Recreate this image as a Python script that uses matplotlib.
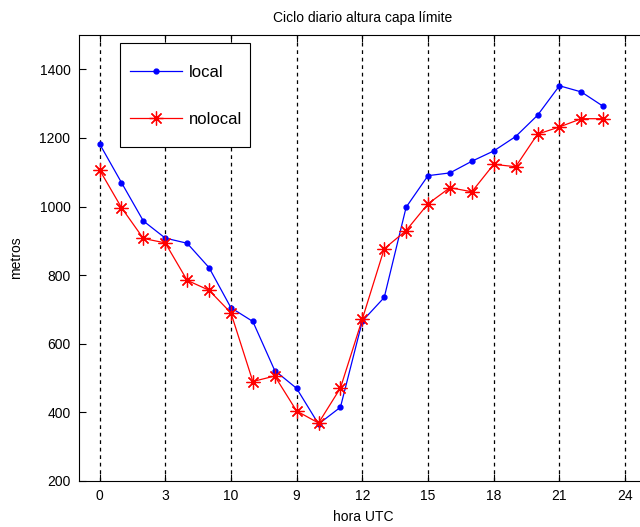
import numpy as np
import matplotlib
matplotlib.use('Agg')
import matplotlib.pyplot as plt
from matplotlib.patches import Rectangle

plt.rcParams['font.family'] = ['Liberation Sans', 'DejaVu Sans']
plt.rcParams['font.size'] = 10

# hourly boundary layer height (m)
hora = np.arange(24)
local = [1183, 1070, 958, 908, 893, 822, 705, 665, 522, 470, 366, 415,
         666, 735, 998, 1090, 1098, 1132, 1162, 1204, 1266, 1352, 1334, 1292]
nolocal = [1107, 997, 907, 894, 785, 756, 690, 490, 506, 404, 369, 471,
           672, 877, 930, 1008, 1055, 1043, 1123, 1116, 1211, 1232, 1256, 1256]

xticks = [0, 3, 6, 9, 12, 15, 18, 21, 24]
xticklabels = ['0', '3', '10', '9', '12', '15', '18', '21', '24']
yticks = [200, 400, 600, 800, 1000, 1200, 1400]

fig = plt.figure(figsize=(6.4, 5.27), dpi=100)
ax = fig.add_axes([0.123, 0.0873, 0.888, 0.8463])

ax.plot(hora, local, 'b.-', lw=0.9, ms=7, label='local')
# 8-arm asterisk like the classic '*' marker
ax.plot(hora, nolocal, 'r-', marker=(8, 2, 0), lw=0.9, ms=10, mew=0.9,
        label='nolocal')

ax.set_xlim(-0.95, 25)
ax.set_ylim(200, 1500)
ax.set_xticks(xticks)
ax.set_xticklabels(xticklabels)
ax.set_yticks(yticks)
ax.tick_params(direction='in', top=True, right=True, length=5, width=0.8,
               labelsize=10, pad=6)
ax.xaxis.grid(True, ls=(0, (3, 3)), color='black', lw=0.9)
for s in ax.spines.values():
    s.set_linewidth(0.8)

ax.set_title('Ciclo diario altura capa límite', fontsize=10, pad=9)
ax.set_xlabel('hora UTC', labelpad=5)
ax.set_ylabel('metros', labelpad=12)

# legend entries without frame, box drawn separately for the tall layout
leg = ax.legend(loc='upper left', bbox_to_anchor=(0.0903, 0.932),
                borderaxespad=0, frameon=False, fontsize=12, borderpad=0,
                handlelength=3.1, labelspacing=1.92, handletextpad=0.42)
leg.set_zorder(6)
ax.add_patch(Rectangle((0.0727, 0.749), 0.2288, 0.2332, transform=ax.transAxes,
                       facecolor='white', edgecolor='black', lw=0.8, zorder=5))

fig.savefig('out.png', dpi=100)
